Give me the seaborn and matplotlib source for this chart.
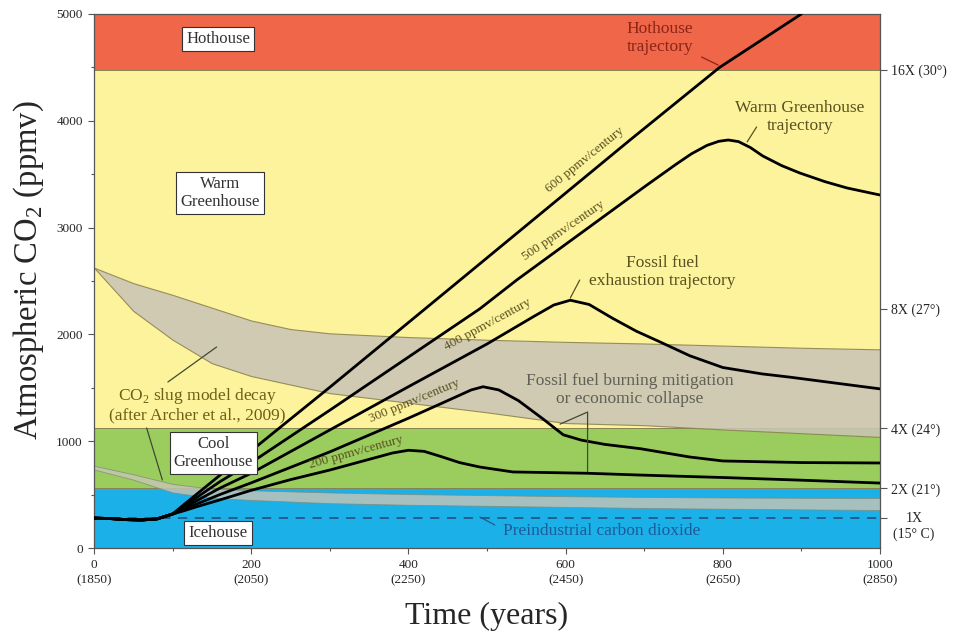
import pandas as pd
import seaborn as sns
import matplotlib.pyplot as plt

# --- climate zones (ppmv) ---
zone_names = ['Icehouse', 'Cool Greenhouse', 'Warm Greenhouse', 'Hothouse']
zone_bottom = [0, 560, 1120, 4480]
zone_top = [560, 1120, 4480, 5000]
zone_colors = ['#1cb0e8', '#9acd5e', '#fdf39c', '#ef6648']

preindustrial = 280

# --- CO2 slug model decay bands (after Archer et al., 2009) ---
slug_x = [0, 50, 100, 150, 200, 250, 300, 400, 500, 600, 700, 800, 900, 1000]
slug_hi_top = [2625, 2480, 2370, 2250, 2130, 2050, 2010, 1975, 1950, 1930, 1915, 1895, 1875, 1860]
slug_hi_bot = [2625, 2220, 1950, 1730, 1610, 1530, 1450, 1360, 1270, 1170, 1150, 1110, 1075, 1040]
slug_lo_top = [770, 690, 600, 555, 540, 530, 520, 505, 495, 485, 478, 473, 470, 468]
slug_lo_bot = [735, 640, 520, 470, 450, 435, 420, 405, 395, 385, 375, 368, 362, 356]

# --- emission trajectories ---
start_x = [0, 20, 40, 60, 80, 100]
start_y = [280, 276, 266, 262, 272, 318]

traj = {
    '600': ([115, 130, 160, 200, 300, 466, 682, 796, 900],
            [410, 500, 680, 910, 1505, 2510, 3820, 4500, 5000]),
    '500': ([115, 130, 160, 200, 300, 491, 538, 700, 740, 760, 780, 795, 807, 820, 835, 851, 875, 898, 930, 958, 1000],
            [395, 470, 620, 800, 1290, 2240, 2510, 3380, 3590, 3690, 3770, 3808, 3820, 3805, 3750, 3670, 3580, 3511, 3430, 3371, 3305]),
    '400': ([115, 130, 160, 200, 300, 400, 500, 560, 585, 606, 630, 660, 690, 720, 758, 800, 850, 885, 1000],
            [380, 440, 560, 700, 1105, 1510, 1910, 2170, 2275, 2320, 2280, 2150, 2030, 1930, 1800, 1690, 1630, 1600, 1490]),
    '300': ([115, 130, 160, 200, 300, 400, 450, 480, 495, 515, 540, 571, 597, 620, 650, 695, 758, 800, 900, 1000],
            [365, 410, 500, 610, 900, 1215, 1380, 1480, 1510, 1480, 1380, 1210, 1060, 1010, 970, 930, 852, 815, 800, 796]),
    '200': ([115, 130, 160, 200, 250, 300, 350, 380, 400, 420, 440, 465, 491, 533, 627, 695, 800, 900, 1000],
            [350, 385, 450, 540, 640, 730, 830, 890, 915, 905, 860, 800, 758, 712, 700, 683, 660, 635, 608]),
}

rows = []
for name, (xs, ys) in traj.items():
    for x, y in zip(start_x + xs, start_y + ys):
        rows.append({'scenario': name, 'year': x, 'co2': y})
df = pd.DataFrame(rows)

right_ticks = [280, 560, 1120, 2240, 4480]
right_labels = ['', '2X (21\u00b0)', '4X (24\u00b0)', '8X (27\u00b0)', '16X (30\u00b0)']
x_ticks = [0, 200, 400, 600, 800, 1000]
x_labels = ['0\n(1850)', '200\n(2050)', '400\n(2250)', '600\n(2450)', '800\n(2650)', '1000\n(2850)']

sns.set_theme(style='ticks')
plt.rcParams['font.family'] = ['Liberation Serif', 'DejaVu Serif']
plt.rcParams['mathtext.fontset'] = 'custom'
plt.rcParams['mathtext.rm'] = 'Liberation Serif'

fig = plt.figure(figsize=(9.59, 6.35), dpi=100)
ax = fig.add_axes([0.098, 0.137, 0.8196, 0.841])

edge = '#8a8250'
for b, t, c in zip(zone_bottom, zone_top, zone_colors):
    ax.axhspan(b, t, color=c, zorder=0, lw=0)
for v in zone_bottom[1:]:
    ax.axhline(v, color=edge, lw=0.7, zorder=0.5)

ax.fill_between(slug_x, slug_hi_bot, slug_hi_top, color='#c9c5b4', alpha=0.88,
                edgecolor=edge, lw=0.8, zorder=1)
ax.fill_between(slug_x, slug_lo_bot, slug_lo_top, color='#c9c5b4', alpha=0.8,
                edgecolor='#7f8a78', lw=0.6, zorder=1)

ax.axhline(preindustrial, color='#204a70', lw=1.1, ls=(0, (6, 5)), zorder=2)

sns.lineplot(data=df, x='year', y='co2', hue='scenario', units='scenario',
             estimator=None, sort=False, palette=['black'] * 5, lw=2.0,
             legend=False, ax=ax, zorder=3)

ax.set_xlim(0, 1000)
ax.set_ylim(0, 5000)
ax.set_xticks(x_ticks)
ax.set_xticklabels(x_labels, fontsize=9.5, linespacing=1.35)
ax.set_xticks(range(100, 1000, 200), minor=True)
ax.set_yticks(range(0, 5001, 1000))
ax.set_yticklabels([str(v) for v in range(0, 5001, 1000)], fontsize=9.5)
ax.set_yticks(range(500, 5000, 1000), minor=True)
ax.tick_params(direction='out', length=4, width=0.8, color='#555', pad=4)
ax.tick_params(which='minor', length=2.5, width=0.8, color='#555')
for s in ax.spines.values():
    s.set_color('#555')
    s.set_linewidth(0.9)
ax.set_xlabel('Time (years)', fontsize=23, labelpad=11)
ax.set_ylabel('Atmospheric CO$_2$ (ppmv)', fontsize=23.5)
ax.yaxis.set_label_coords(-0.061, 0.52)

ax2 = ax.twinx()
ax2.set_ylim(0, 5000)
ax2.set_yticks(right_ticks)
ax2.set_yticklabels(right_labels, fontsize=10)
ax2.tick_params(direction='out', length=5, width=0.8, color='#555', pad=3)
for s in ax2.spines.values():
    s.set_visible(False)
ax2.text(1.043, preindustrial, '1X', transform=ax2.get_yaxis_transform(),
         ha='center', va='center', fontsize=10)
ax2.text(1.043, 130, '(15\u00b0 C)', transform=ax2.get_yaxis_transform(),
         ha='center', va='center', fontsize=10)

box = dict(boxstyle='square,pad=0.25', fc='white', ec='#333', lw=0.8)
zone_txt = {'Hothouse': (158, 4766), 'Warm Greenhouse': (160, 3324),
            'Cool Greenhouse': (152, 889), 'Icehouse': (158, 140)}
for name, (x, y) in zone_txt.items():
    ax.text(x, y, name.replace(' ', '\n'), ha='center', va='center', fontsize=12,
            color='#333', bbox=box, zorder=5, linespacing=1.1)

rate_lbl = [('600', 625, 3630, 39), ('500', 597, 2975, 34.5), ('400', 501, 2090, 28.5),
            ('300', 408, 1375, 22.5), ('200', 334, 895, 15.5)]
for r, x, y, ang in rate_lbl:
    ax.text(x, y, f'{r} ppmv/century', rotation=ang, ha='center', va='center',
            fontsize=9.5, color='#5a5020', zorder=4, rotation_mode='anchor')

olive = '#5a5020'
lw_p = 0.9
fs = 12.5
ax.text(720, 4775, 'Hothouse\ntrajectory', ha='center', va='center', fontsize=fs,
        color='#8b2418', linespacing=1.1, zorder=4)
ax.plot([773, 794], [4597, 4522], color='#8b2418', lw=lw_p, zorder=4)
ax.text(898, 4036, 'Warm Greenhouse\ntrajectory', ha='center', va='center', fontsize=fs,
        color=olive, linespacing=1.1, zorder=4)
ax.plot([843, 831], [3942, 3802], color=olive, lw=lw_p, zorder=4)
ax.text(723, 2585, 'Fossil fuel\nexhaustion trajectory', ha='center', va='center',
        fontsize=fs, color=olive, linespacing=1.1, zorder=4)
ax.plot([618, 606], [2509, 2341], color=olive, lw=lw_p, zorder=4)
ax.text(682, 1479, 'Fossil fuel burning mitigation\nor economic collapse', ha='center',
        va='center', fontsize=fs, color='#5f5f55', linespacing=1.1, zorder=4)
ax.plot([593, 628, 628], [1160, 1273, 712], color='#3f4a30', lw=lw_p, zorder=4)
ax.text(131, 1339, 'CO$_2$ slug model decay\n(after Archer et al., 2009)', ha='center',
        va='center', fontsize=fs, color='#6e5f18', linespacing=1.1, zorder=4)
ax.plot([94, 156], [1554, 1882], color='#3f4a30', lw=lw_p, zorder=4)
ax.plot([67, 87], [1124, 637], color='#3f4a30', lw=lw_p, zorder=4)
ax.text(646, 159, 'Preindustrial carbon dioxide', ha='center', va='center',
        fontsize=fs, color='#1d5a9a', zorder=4)
ax.plot([491, 510], [290, 215], color='#1d5a9a', lw=lw_p, zorder=4)

fig.savefig('out.png', dpi=100)
